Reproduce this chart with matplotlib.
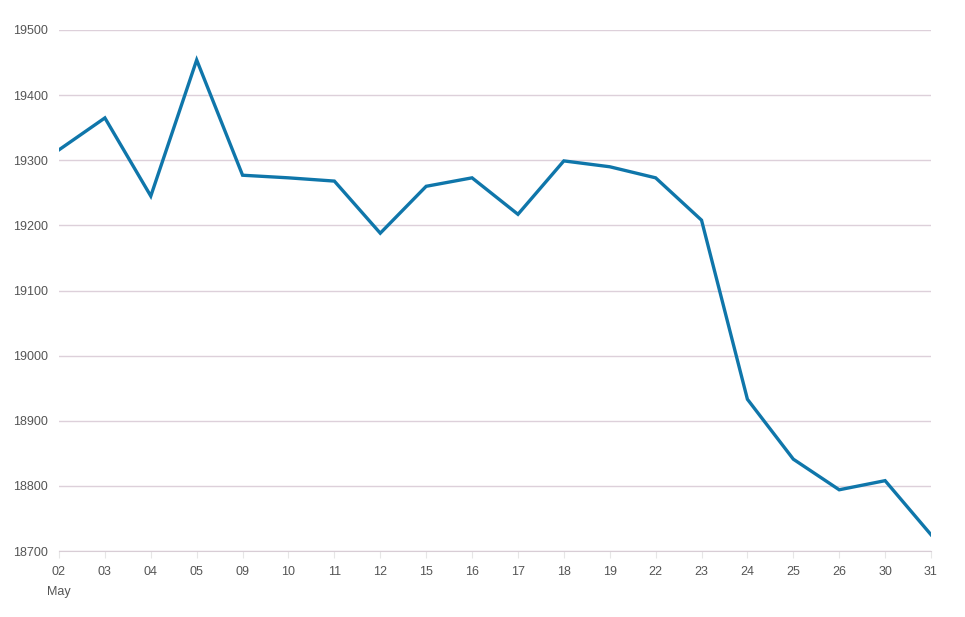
import matplotlib
matplotlib.use("Agg")
import matplotlib.pyplot as plt

days = ["02", "03", "04", "05", "09", "10", "11", "12", "15", "16",
        "17", "18", "19", "22", "23", "24", "25", "26", "30", "31"]
values = [19316, 19365, 19245, 19454, 19277, 19273, 19268, 19188, 19260, 19273,
          19217, 19299, 19290, 19273, 19208, 18933, 18841, 18794, 18808, 18725]
y_ticks = [18700, 18800, 18900, 19000, 19100, 19200, 19300, 19400, 19500]

plt.rcParams['font.family'] = ['Liberation Sans', 'DejaVu Sans']

fig = plt.figure(figsize=(9.65, 6.17), dpi=100)
ax = fig.add_axes([59 / 965, 1 - 551 / 617, (931 - 59) / 965, (551 - 30) / 617])

x = list(range(len(days)))
ax.plot(x, values, color='#0f76aa', linewidth=2.4, solid_joinstyle='miter', zorder=3)

ax.set_xlim(0, len(days) - 1)
ax.set_ylim(18700, 19500)
ax.set_yticks(y_ticks)
ax.set_yticklabels([str(v) for v in y_ticks])
ax.set_xticks(x)
labels = [d for d in days]
labels[0] = "02\nMay"
ax.set_xticklabels(labels, linespacing=1.9, va='top')

ax.grid(axis='y', color='#ddd0da', linewidth=1)
ax.set_axisbelow(True)
for s in ['top', 'right', 'left']:
    ax.spines[s].set_visible(False)
ax.spines['bottom'].set_color('#d8cdd5')

ax.tick_params(axis='y', length=0, pad=8, labelsize=9, labelcolor='#555555')
ax.tick_params(axis='x', length=5, color='#e6e6e6', pad=6, labelsize=9, labelcolor='#555555')
for t in ax.get_xticklabels():
    t.set_horizontalalignment('center')

fig.savefig("out.png", dpi=100, facecolor='white')
